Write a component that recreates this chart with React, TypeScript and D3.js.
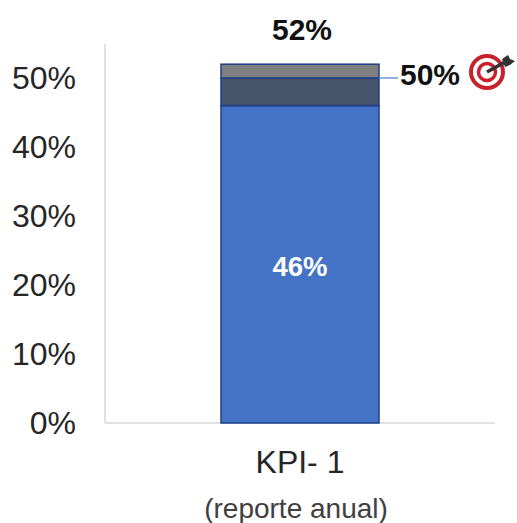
import React from "react";
import * as d3 from "d3";

const category = "KPI- 1";
const subtitle = "(reporte anual)";
const segmentNames = ["Base", "Mid", "Top"];
const segmentValues = [46, 4, 2];
const segmentColors = ["#4472c4", "#44546a", "#7f7f7f"];
const yTicks = [0, 10, 20, 30, 40, 50];
const targetValue = 50;
const totalValue = 52;

const W = 517;
const H = 523;
const y = d3.scaleLinear().domain([0, 55]).range([423, 43.5]);
const x = d3.scaleBand().domain([category]).range([221, 379]);
const font = "'Liberation Sans', Arial, sans-serif";

export default function App() {
  const stack = d3.stack<number[]>().keys(segmentNames.map((_, i) => String(i))).value((d, k) => d[+k])([segmentValues]);
  const bx = x(category)!;
  const bw = x.bandwidth();
  const cx = bx + bw / 2;
  return (
    <svg width={W} height={H} style={{ position: "fixed", left: 0, top: 0, display: "block" }} fontFamily={font}>
      <rect width={W} height={H} fill="#fff" />
      <line x1={105} x2={105} y1={y(55)} y2={y(0)} stroke="#d9d9d9" strokeWidth={1.5} />
      <line x1={105} x2={495} y1={y(0)} y2={y(0)} stroke="#d9d9d9" strokeWidth={1.5} />
      {yTicks.map((t) => (
        <text key={t} x={76} y={y(t) - 1} dy="0.36em" textAnchor="end" fontSize={32} fill="#262626">{t}%</text>
      ))}
      {stack.map((s, i) => (
        <rect key={i} x={bx} width={bw} y={y(s[0][1])} height={y(s[0][0]) - y(s[0][1])} fill={segmentColors[i]} stroke="#1f3f86" strokeWidth={1.5} />
      ))}
      <line x1={bx + bw} x2={398} y1={y(targetValue)} y2={y(targetValue)} stroke="#6f94d8" strokeWidth={1.5} />
      <text x={302} y={29} dy="0.36em" textAnchor="middle" fontSize={30} fontWeight={700} fill="#111">{totalValue}%</text>
      <text x={cx} y={266} dy="0.36em" textAnchor="middle" fontSize={27.5} fontWeight={700} fill="#fff">{segmentValues[0]}%</text>
      <text x={430} y={74} dy="0.36em" textAnchor="middle" fontSize={30} fontWeight={700} fill="#111">{targetValue}%</text>
      <text x={cx} y={461} dy="0.36em" textAnchor="middle" fontSize={32} fill="#262626">{category}</text>
      <text x={296} y={508} dy="0.36em" textAnchor="middle" fontSize={28} fill="#404040">{subtitle}</text>
      <g transform="translate(487,72)">
        <circle r={16} fill="none" stroke="#c8202c" strokeWidth={4} />
        <circle r={8.5} fill="none" stroke="#c8202c" strokeWidth={3.5} />
        <line x1={0} y1={0} x2={18} y2={-10} stroke="#333" strokeWidth={3.5} />
        <path d="M15,-13 L21,-17 L23,-13 L28,-11 L23,-7 L18,-5 Z" fill="#333" />
      </g>
    </svg>
  );
}
